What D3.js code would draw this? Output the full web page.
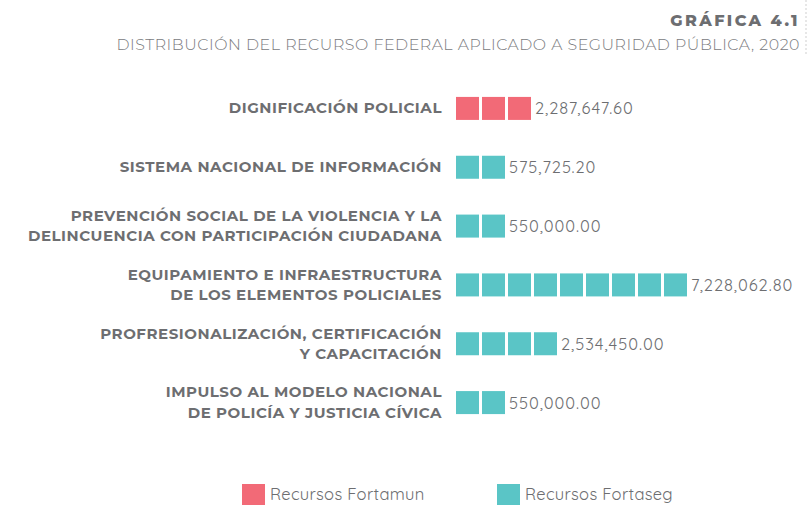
<!DOCTYPE html>
<html>
<head>
<meta charset="utf-8">
<script src="https://cdn.jsdelivr.net/npm/d3@7"></script>
<style>
  html, body { margin: 0; padding: 0; background: #fff; }
  svg { display: block; }
</style>
</head>
<body>
<svg id="chart" width="807" height="505"></svg>
<script>
// Programs (each label line is a separate entry)
const categories = [
  ["DIGNIFICACIÓN POLICIAL"],
  ["SISTEMA NACIONAL DE INFORMACIÓN"],
  ["PREVENCIÓN SOCIAL DE LA VIOLENCIA Y LA", "DELINCUENCIA CON PARTICIPACIÓN CIUDADANA"],
  ["EQUIPAMIENTO E INFRAESTRUCTURA", "DE LOS ELEMENTOS POLICIALES"],
  ["PROFRESIONALIZACIÓN, CERTIFICACIÓN", "Y CAPACITACIÓN"],
  ["IMPULSO AL MODELO NACIONAL", "DE POLICÍA Y JUSTICIA CÍVICA"]
];
// Amount applied per program (pesos)
const values = [2287647.60, 575725.20, 550000.00, 7228062.80, 2534450.00, 550000.00];
// Number of pictogram squares drawn per program
const squares = [3, 2, 2, 9, 4, 2];
// Funding source per program
const sources = ["Recursos Fortamun", "Recursos Fortaseg", "Recursos Fortaseg",
                 "Recursos Fortaseg", "Recursos Fortaseg", "Recursos Fortaseg"];
const seriesNames = ["Recursos Fortamun", "Recursos Fortaseg"];
const seriesColors = ["#f26a77", "#5ac5c6"];

const svg = d3.select("#chart");
const textColor = "#6d6e71";
const labelFont = "Montserrat, 'Open Sans', sans-serif";
const valueFont = "Quicksand, Lato, 'Noto Sans', sans-serif";

const color = d3.scaleOrdinal().domain(seriesNames).range(seriesColors);

// Row positions
const y = d3.scaleBand()
  .domain(d3.range(categories.length))
  .range([79, 432])
  .paddingInner(0)
  .align(0.5);

// Square positions along a row
const maxSquares = d3.max(squares);
const cell = 26, size = 23;
const x = d3.scaleLinear().domain([0, maxSquares]).range([456, 456 + maxSquares * cell]);

const fmt = d3.format(",.2f");

// Header
svg.append("line")
  .attr("x1", 806).attr("x2", 806).attr("y1", 0).attr("y2", 56)
  .attr("stroke", "#cfcfcf").attr("stroke-width", 1)
  .attr("stroke-dasharray", "2,2");

svg.append("text")
  .attr("x", 800).attr("y", 26)
  .attr("text-anchor", "end")
  .attr("font-family", labelFont)
  .attr("font-weight", 800)
  .attr("font-size", 16)
  .attr("letter-spacing", 2.4)
  .attr("fill", textColor)
  .text("GRÁFICA 4.1");

svg.append("text")
  .attr("x", 800).attr("y", 50)
  .attr("text-anchor", "end")
  .attr("font-family", labelFont)
  .attr("font-weight", 300)
  .attr("font-size", 15.8)
  .attr("letter-spacing", 0.55)
  .attr("fill", "#7a7b7e")
  .text("DISTRIBUCIÓN DEL RECURSO FEDERAL APLICADO A SEGURIDAD PÚBLICA, 2020");

const rows = svg.append("g").selectAll("g")
  .data(categories.map((c, i) => ({
    lines: c, value: values[i], n: squares[i], source: sources[i], i
  })))
  .join("g")
  .attr("transform", d => `translate(0,${y(d.i) + y.bandwidth() / 2})`);

// Category labels
rows.append("text")
  .attr("text-anchor", "end")
  .attr("font-family", labelFont)
  .attr("font-weight", 700)
  .attr("font-size", 15)
  .attr("letter-spacing", 0.55)
  .attr("fill", textColor)
  .selectAll("tspan")
  .data(d => d.lines.map((t, k) => ({ t, k, len: d.lines.length })))
  .join("tspan")
  .attr("x", 442)
  .attr("y", d => 5 + (d.k - (d.len - 1) / 2) * 20.5)
  .text(d => d.t);

// Pictogram squares
rows.selectAll("rect")
  .data(d => d3.range(d.n).map(k => ({ k, source: d.source })))
  .join("rect")
  .attr("x", d => x(d.k))
  .attr("y", -size / 2)
  .attr("width", size)
  .attr("height", size)
  .attr("fill", d => color(d.source));

// Value labels
rows.append("text")
  .attr("x", d => x(d.n) + 1)
  .attr("y", 6)
  .attr("font-family", valueFont)
  .attr("font-size", 16.5)
  .attr("letter-spacing", 0.95)
  .attr("fill", textColor)
  .text(d => fmt(d.value));

// Legend
const legend = svg.append("g").selectAll("g")
  .data(seriesNames)
  .join("g")
  .attr("transform", (d, i) => `translate(${[242, 497][i]},484)`);

legend.append("rect")
  .attr("width", 23).attr("height", 21)
  .attr("fill", d => color(d));

legend.append("text")
  .attr("x", 28).attr("y", 16)
  .attr("font-family", valueFont)
  .attr("font-size", 16.5)
  .attr("letter-spacing", 0.3)
  .attr("fill", textColor)
  .text(d => d);
</script>
</body>
</html>
